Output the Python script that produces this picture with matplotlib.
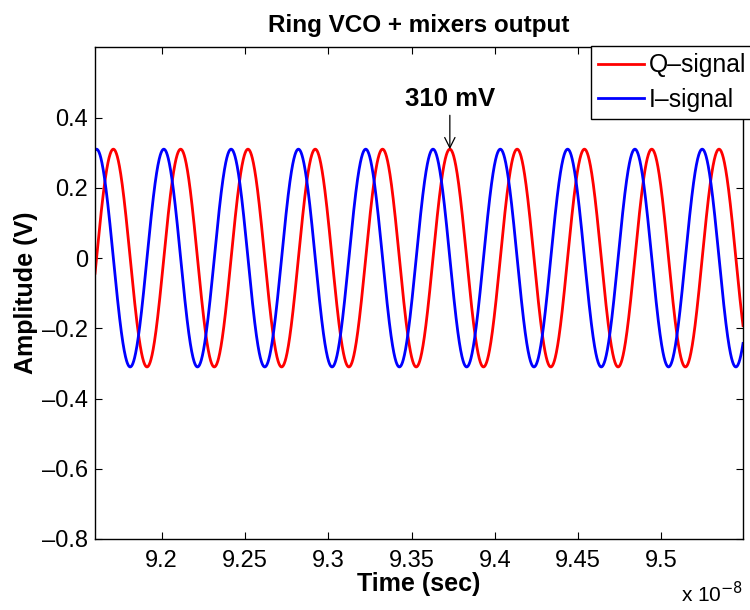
import numpy as np
import matplotlib.pyplot as plt
from matplotlib.ticker import FuncFormatter

plt.rcParams["font.family"] = ["Liberation Sans", "DejaVu Sans"]

# ---- waveform values ----
amp_v = 0.31                 # peak amplitude (310 mV)
period_s = 0.0404e-8         # oscillation period
q_peak_s = 9.373e-8          # Q peak marked with the arrow
i_lead_s = period_s / 4      # I leads Q by a quarter period
t_range = [9.16e-8, 9.549e-8]
x_ticks = [9.2e-8, 9.25e-8, 9.3e-8, 9.35e-8, 9.4e-8, 9.45e-8, 9.5e-8]
y_ticks = [-0.8, -0.6, -0.4, -0.2, 0, 0.2, 0.4]
y_range = [-0.8, 0.6]

t = np.linspace(t_range[0], t_range[1], 3000)
q_sig = amp_v*np.cos(2*np.pi*(t - q_peak_s)/period_s)
i_sig = amp_v*np.cos(2*np.pi*(t - q_peak_s + i_lead_s)/period_s)

fig = plt.figure(figsize=(7.5, 6.1), dpi=100)
ax = fig.add_axes([0.1267, 0.1164, 0.864, 0.806])

ax.plot(t, q_sig, "-", color="#ff0000", lw=2, label="Q\u2013signal")
ax.plot(t, i_sig, "-", color="#0000ff", lw=2, label="I\u2013signal")

ax.set_xlim(t_range); ax.set_ylim(y_range)
ax.set_xticks(x_ticks); ax.set_yticks(y_ticks)
ax.xaxis.set_major_formatter(FuncFormatter(lambda v, p: f"{v*1e8:g}"))
ax.yaxis.set_major_formatter(FuncFormatter(lambda v, p: f"{v:g}".replace("-", "\u2013")))
ax.tick_params(direction="in", length=5, width=0.8, labelsize=17,
               top=True, right=True)
ax.tick_params(axis="x", pad=8)
ax.tick_params(axis="y", pad=5)
for s in ax.spines.values():
    s.set_linewidth(1.0)

ax.set_title("Ring VCO + mixers output", fontsize=17.5, fontweight="bold", pad=11)
ax.set_xlabel("Time (sec)", fontsize=18, fontweight="bold", labelpad=0)
ax.set_ylabel("Amplitude (V)", fontsize=18, fontweight="bold", labelpad=3)
ax.text(1.0, -0.085, "x 10$^{-8}$", transform=ax.transAxes, ha="right",
        va="top", fontsize=15)

# arrow to the Q peak, label centred above it
ax.annotate("310 mV", xy=(q_peak_s, amp_v), xytext=(0, 31),
            textcoords="offset points", ha="center", va="baseline",
            fontsize=18.5, fontweight="bold",
            arrowprops=dict(arrowstyle="->", color="k", lw=0.9,
                            shrinkA=1, shrinkB=0))

leg = fig.legend(loc="upper left", bbox_to_anchor=(591/750, 1 - 46/610),
                 borderaxespad=0, fontsize=17.8, fancybox=False, framealpha=1,
                 edgecolor="k", handlelength=1.85, handletextpad=0.2,
                 borderpad=0.3, labelspacing=0.42)
leg.get_frame().set_linewidth(1.0)

fig.savefig("out.png", dpi=100, facecolor="white")
